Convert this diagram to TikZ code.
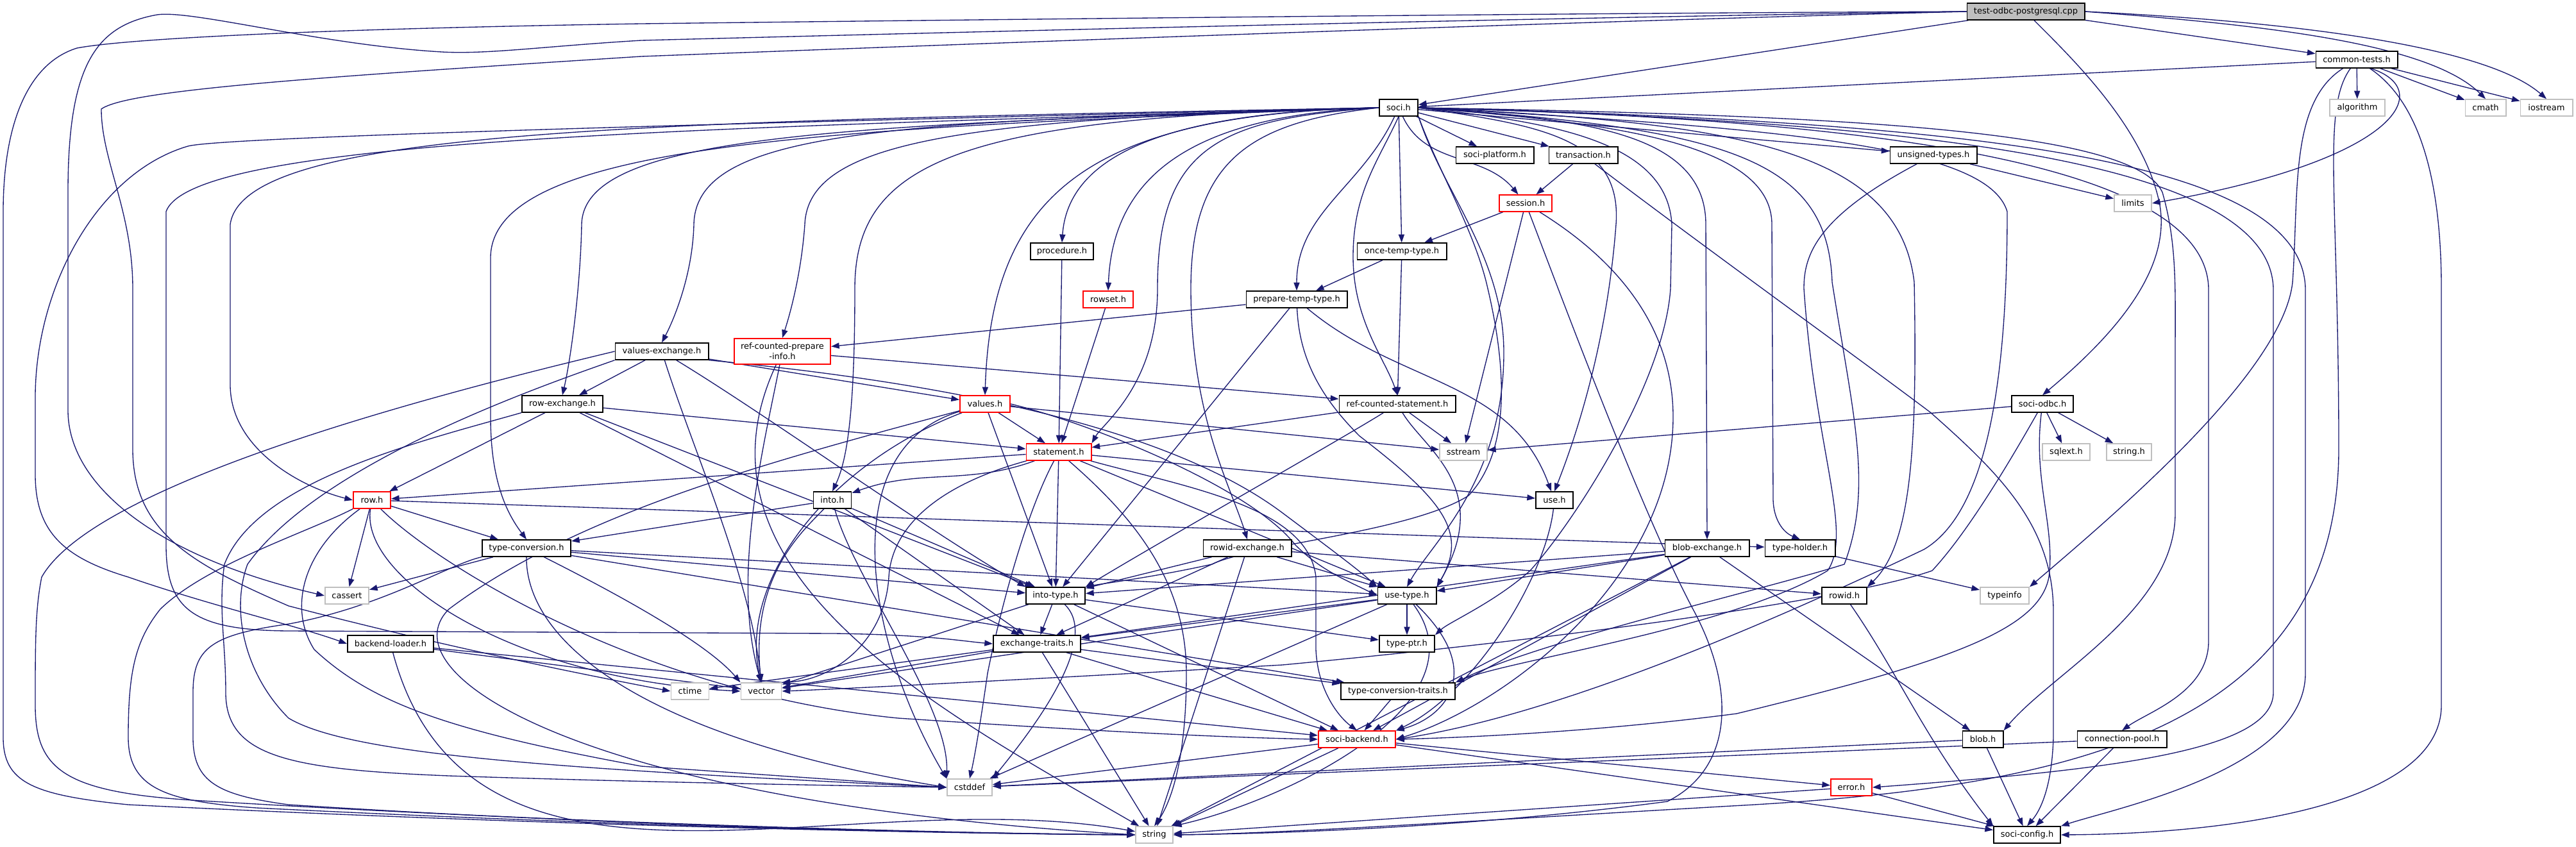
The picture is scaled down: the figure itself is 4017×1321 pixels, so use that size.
\documentclass[tikz,border=0pt]{standalone}
\usepackage{fontspec}
\setmainfont{DejaVu Sans}
\usetikzlibrary{arrows.meta}
\pgfdeclarelayer{edgelayer}
\pgfsetlayers{edgelayer,main}
\definecolor{eblue}{HTML}{191970}
\definecolor{lgray}{HTML}{BFBFBF}
\definecolor{rootfill}{HTML}{BFBFBF}
\newcommand\nfont{\fontsize{3.7pt}{4.6pt}\selectfont}
\begin{document}
\begin{tikzpicture}[x=0.01cm,y=-0.01cm,
  box/.style={draw=black,line width=0.55pt,fill=white,inner sep=0pt,minimum height=0.255cm,font=\nfont},
  sys/.style={box,draw=lgray},
  trunc/.style={box,draw=red},
  e/.style={draw=eblue,line width=0.38pt,-{Triangle[length=3.6pt,width=2.6pt]}}]
\begin{pgfonlayer}{edgelayer}
\fill[white] (0,0) rectangle (4017,1321);
\end{pgfonlayer}
\useasboundingbox (0,0) rectangle (4017,1321);
% ---------- nodes ----------
\node[box,fill=rootfill,minimum width=1.83cm] (T) at (3159,18) {test-odbc-postgresql.cpp};
\node[box,minimum width=1.27cm] (ct) at (3675,93) {common-tests.h};
\node[sys,minimum width=0.86cm] (alg) at (3676,168) {algorithm};
\node[sys,minimum width=0.63cm] (cmath) at (3876,168) {cmath};
\node[sys,minimum width=0.81cm] (ios) at (3971,168) {iostream};
\node[box,minimum width=0.60cm] (soci) at (2181,168) {soci.h};
\node[box,minimum width=1.21cm] (plat) at (2331,242) {soci-platform.h};
\node[box,minimum width=1.07cm] (trans) at (2469,242) {transaction.h};
\node[box,minimum width=1.35cm] (unsig) at (3015,242) {unsigned-types.h};
\node[trunc,minimum width=0.82cm] (sess) at (2379,317) {session.h};
\node[sys,minimum width=0.58cm] (limits) at (3326,317) {limits};
\node[box,minimum width=1.39cm] (once) at (2186,392) {once-temp-type.h};
\node[box,minimum width=0.98cm] (proc) at (1656,392) {procedure.h};
\node[trunc,minimum width=0.78cm] (rowset) at (1728,467) {rowset.h};
\node[box,minimum width=1.57cm] (prep) at (2022,467) {prepare-temp-type.h};
\node[box,minimum width=1.45cm] (vex) at (1032,548) {values-exchange.h};
\node[trunc,minimum width=1.50cm,minimum height=0.40cm,align=center] (rcpi) at (1220,548) {ref-counted-prepare\\-info.h};
\node[box,minimum width=1.26cm] (rex) at (877,630) {row-exchange.h};
\node[trunc,minimum width=0.78cm] (values) at (1536,630) {values.h};
\node[box,minimum width=1.81cm] (rcs) at (2179,630) {ref-counted-statement.h};
\node[box,minimum width=0.96cm] (odbc) at (3185,630) {soci-odbc.h};
\node[trunc,minimum width=1.01cm] (stmt) at (1651,705) {statement.h};
\node[sys,minimum width=0.74cm] (sstream) at (2282,705) {sstream};
\node[sys,minimum width=0.74cm] (sqlext) at (3222,705) {sqlext.h};
\node[sys,minimum width=0.70cm] (strh) at (3320,705) {string.h};
\node[trunc,minimum width=0.58cm] (row) at (580,780) {row.h};
\node[box,minimum width=0.59cm] (into) at (1298,780) {into.h};
\node[box,minimum width=0.58cm] (use) at (2424,780) {use.h};
\node[box,minimum width=1.38cm] (tconv) at (821,855) {type-conversion.h};
\node[box,minimum width=1.37cm] (ridex) at (1945,855) {rowid-exchange.h};
\node[box,minimum width=1.31cm] (bex) at (2662,855) {blob-exchange.h};
\node[box,minimum width=1.09cm] (thold) at (2807,855) {type-holder.h};
\node[sys,minimum width=0.68cm] (cassert) at (541,929) {cassert};
\node[box,minimum width=0.92cm] (itype) at (1646,929) {into-type.h};
\node[box,minimum width=0.91cm] (utype) at (2194,929) {use-type.h};
\node[box,minimum width=0.70cm] (rowid) at (2876,929) {rowid.h};
\node[sys,minimum width=0.76cm] (tinfo) at (3126,929) {typeinfo};
\node[box,minimum width=1.34cm] (bload) at (609,1004) {backend-loader.h};
\node[box,minimum width=1.36cm] (extr) at (1617,1004) {exchange-traits.h};
\node[box,minimum width=0.86cm] (tptr) at (2194,1004) {type-ptr.h};
\node[sys,minimum width=0.59cm] (ctime) at (1076,1078) {ctime};
\node[sys,minimum width=0.63cm] (vector) at (1187,1078) {vector};
\node[box,minimum width=1.78cm] (tct) at (2180,1078) {type-conversion-traits.h};
\node[trunc,minimum width=1.20cm] (sback) at (2116,1153) {soci-backend.h};
\node[box,minimum width=0.63cm] (blob) at (3092,1153) {blob.h};
\node[box,minimum width=1.39cm] (cpool) at (3309,1153) {connection-pool.h};
\node[sys,minimum width=0.70cm] (cstddef) at (1512,1228) {cstddef};
\node[trunc,minimum width=0.64cm] (error) at (2887,1228) {error.h};
\node[sys,minimum width=0.58cm] (string) at (1800,1302) {string};
\node[box,minimum width=1.04cm] (sconf) at (3161,1302) {soci-config.h};
\begin{pgfonlayer}{edgelayer}
% ---------- test-odbc-postgresql.cpp ----------
\draw[e] (T) -- (soci);
\draw[e] (T) -- (ct);
\draw[e] (T.south) ++(13,0) .. controls (3230,90) and (3345,200) .. (3368,320) .. controls (3385,420) and (3300,520) .. (odbc.north);
\draw[e] (T.east) .. controls (3550,40) and (3790,70) .. (cmath.north);
\draw[e] (T.east) .. controls (3600,35) and (3880,75) .. (ios.north);
\draw[e] (T.west) .. controls (2600,20) and (2000,25) .. (1000,37) .. controls (500,45) and (200,60) .. (120,75) .. controls (40,100) and (5,200) .. (5,330) -- (5,1150) .. controls (5,1220) and (50,1240) .. (200,1255) .. controls (900,1290) and (1500,1300) .. (string.west);
\draw[e] (T.west) .. controls (2600,25) and (2000,37) .. (1000,63) .. controls (850,72) and (760,85) .. (689,81) .. controls (500,70) and (300,15) .. (245,23) .. controls (150,40) and (106,100) .. (106,300) -- (106,640) .. controls (106,760) and (250,870) .. (cassert.west);
\draw[e] (T.west) .. controls (2600,30) and (2000,50) .. (1000,88) .. controls (500,120) and (200,140) .. (158,170) .. controls (158,250) and (207,330) .. (207,450) -- (207,700) .. controls (207,830) and (300,880) .. (450,945) .. controls (700,1010) and (900,1050) .. (ctime.west);
% ---------- common-tests.h ----------
\draw[e] (ct) -- (soci);
\draw[e] (ct) -- (alg);
\draw[e] (ct) -- (cmath);
\draw[e] (ct) -- (ios);
\draw[e] (ct.south) ++(22,0) .. controls (3800,140) and (3740,250) .. (limits.east);
\draw[e] (ct) .. controls (3570,160) and (3585,300) .. (3575,440) .. controls (3560,580) and (3300,800) .. (tinfo.north east);
\draw[e] (ct) .. controls (3620,170) and (3647,300) .. (3647,700) .. controls (3647,1150) and (3200,1230) .. (2700,1257) .. controls (2300,1280) and (2000,1300) .. (string.east);
\draw[e] (ct) .. controls (3760,150) and (3807,250) .. (3807,450) -- (3807,1100) .. controls (3807,1250) and (3500,1300) .. (sconf.east);
% ---------- soci.h ----------
\draw[e] (soci) -- (plat);
\draw[e] (soci) -- (trans);
\draw[e] (soci) to[out=-65,in=130] (sess);
\draw[e] (soci) -- (unsig);
\draw[e] (soci) -- (once);
\draw[e] (soci) to[out=-115,in=90] (prep);
\draw[e] (soci.west) .. controls (1800,175) and (1665,250) .. (proc.north);
\draw[e] (soci.west) .. controls (1850,180) and (1735,280) .. (rowset.north);
\draw[e] (soci.west) .. controls (1700,178) and (1546,300) .. (values.north);
\draw[e] (soci.west) .. controls (1500,182) and (1333,250) .. (1333,450) .. controls (1333,650) and (1320,720) .. (into.north);
\draw[e] (soci.west) .. controls (1500,185) and (1260,220) .. (1255,350) .. controls (1250,420) and (1235,480) .. (rcpi.north);
\draw[e] (soci.west) .. controls (1400,190) and (1085,200) .. (1082,350) .. controls (1080,430) and (1050,500) .. (vex.north);
\draw[e] (soci.west) .. controls (1300,195) and (910,210) .. (907,350) .. controls (905,450) and (890,560) .. (rex.north);
\draw[e] (soci.west) .. controls (1300,200) and (770,220) .. (765,400) -- (765,650) .. controls (765,750) and (790,800) .. (tconv.north);
\draw[e] (soci.west) .. controls (1000,190) and (380,200) .. (359,350) -- (359,600) .. controls (359,700) and (470,760) .. (row.west);
\draw[e] (soci.west) .. controls (1000,195) and (340,215) .. (293,228) .. controls (150,270) and (55,450) .. (55,620) -- (55,740) .. controls (55,830) and (100,870) .. (200,900) .. controls (330,945) and (460,975) .. (bload.west);
\draw[e] (soci.west) .. controls (1100,200) and (300,215) .. (259,330) -- (259,850) .. controls (259,950) and (300,983) .. (450,984) -- (1300,988) .. controls (1450,990) and (1500,1000) .. (extr.west);
\draw[e] (soci.west) .. controls (1950,190) and (1857,250) .. (1857,450) .. controls (1857,650) and (1920,760) .. (ridex.north);
\draw[e] (soci.west) .. controls (1900,185) and (1805,230) .. (1805,450) .. controls (1805,600) and (1720,660) .. (stmt.north east);
\draw[e] (soci.south) .. controls (2150,250) and (2110,300) .. (2110,400) .. controls (2110,500) and (2160,560) .. (rcs.north);
\draw[e] (soci.east) .. controls (2400,195) and (2530,215) .. (2520,350) .. controls (2505,550) and (2450,700) .. (use.north);
\draw[e] (soci.south east) .. controls (2250,300) and (2345,400) .. (2345,550) .. controls (2345,750) and (2230,850) .. (utype.north);
\draw[e] (soci.south east) .. controls (2240,260) and (2300,360) .. (2320,450) .. controls (2360,620) and (2340,720) .. (2290,773) .. controls (2200,830) and (1950,850) .. (1890,880) .. controls (1800,900) and (1720,910) .. (itype.north east);
\draw[e] (soci.east) .. controls (2420,190) and (2600,220) .. (2607,350) -- (2605,450) .. controls (2595,600) and (2450,820) .. (2386,890) .. controls (2330,940) and (2260,970) .. (tptr.north east);
\draw[e] (soci.east) .. controls (2700,200) and (2850,250) .. (2857,440) .. controls (2890,650) and (2921,760) .. (2876,880) .. controls (2750,920) and (2400,1000) .. (tct.north east);
\draw[e] (soci.east) .. controls (2800,200) and (3100,230) .. (3130,330) .. controls (3130,600) and (3097,800) .. (3000,857) .. controls (2700,1000) and (2400,1120) .. (sback.east);
\draw[e] (soci.east) .. controls (2450,185) and (2660,200) .. (2660,350) -- (bex.north);
\draw[e] (soci.east) .. controls (2500,190) and (2763,220) .. (2763,350) -- (2765,780) .. controls (2766,810) and (2780,830) .. (thold.north);
\draw[e] (soci.east) .. controls (2700,190) and (2960,230) .. (2985,440) .. controls (2990,700) and (2980,850) .. (rowid.north east);
\draw[e] (soci.east) .. controls (2900,180) and (3330,205) .. (3372,300) .. controls (3395,380) and (3392,450) .. (3392,550) -- (3392,800) .. controls (3392,950) and (3200,1050) .. (blob.north east);
\draw[e] (soci.east) .. controls (2900,185) and (3440,250) .. (3444,450) -- (3444,1000) .. controls (3444,1080) and (3350,1110) .. (cpool.north);
\draw[e] (soci.east) .. controls (3000,190) and (3540,250) .. (3545,450) -- (3545,1080) .. controls (3545,1170) and (3300,1200) .. (error.east);
\draw[e] (soci.east) .. controls (3100,190) and (3590,250) .. (3595,450) -- (3595,1050) .. controls (3595,1200) and (3300,1260) .. (sconf.north east);
% ---------- transaction.h, unsigned-types.h ----------
\draw[e] (trans) -- (sess);
\draw[e] (trans) .. controls (2650,380) and (2900,560) .. (3010,643) .. controls (3120,740) and (3200,820) .. (3202,950) -- (3202,1150) .. controls (3200,1220) and (3185,1260) .. (sconf.north);
\draw[e] (unsig) -- (limits);
\draw[e] (unsig) .. controls (2830,340) and (2813,400) .. (2813,450) .. controls (2830,700) and (2890,830) .. (2850,890) .. controls (2700,980) and (2350,1030) .. (tct.north east);
% ---------- session.h ----------
\draw[e] (sess) -- (once);
\draw[e] (sess) -- (sstream);
\draw[e] (sess) .. controls (2430,450) and (2560,800) .. (2640,950) .. controls (2710,1080) and (2700,1200) .. (2600,1250) .. controls (2300,1290) and (2000,1300) .. (string.east);
\draw[e] (sess) .. controls (2480,380) and (2609,480) .. (2609,650) .. controls (2609,900) and (2350,1100) .. (sback.east);
% ---------- once / procedure / rowset / prepare ----------
\draw[e] (once) -- (prep);
\draw[e] (once) -- (rcs);
\draw[e] (proc) -- (stmt);
\draw[e] (rowset) -- (stmt);
\draw[e] (prep) -- (rcpi);
\draw[e] (prep) -- (itype);
\draw[e] (prep) .. controls (2026,560) and (2060,620) .. (2120,680) .. controls (2250,780) and (2290,830) .. (utype.north east);
\draw[e] (prep) to[out=-40,in=110] (use);
% ---------- ref-counted-prepare-info.h ----------
\draw[e] (rcpi) -- (rcs);
\draw[e] (rcpi) to[out=-115,in=150] (string);
\draw[e] (rcpi) .. controls (1190,700) and (1140,900) .. (vector.north);
% ---------- values-exchange.h ----------
\draw[e] (vex) -- (values);
\draw[e] (vex) -- (rex);
\draw[e] (vex.west) .. controls (700,610) and (150,750) .. (65,900) .. controls (55,950) and (55,1000) .. (55,1100) .. controls (55,1200) and (100,1235) .. (300,1248) .. controls (900,1285) and (1500,1300) .. (string.west);
\draw[e] (vex.south west) .. controls (850,600) and (500,720) .. (386,880) .. controls (360,950) and (380,1050) .. (450,1120) .. controls (550,1180) and (900,1200) .. (cstddef.west);
\draw[e] (vex) .. controls (1200,650) and (1450,830) .. (itype.north west);
\draw[e] (vex.south east) .. controls (1400,590) and (1800,650) .. (2000,800) .. controls (2080,860) and (2120,890) .. (utype.north west);
\draw[e] (vex) .. controls (1080,700) and (1170,900) .. (vector.north);
% ---------- values.h ----------
\draw[e] (values) -- (stmt);
\draw[e] (values) -- (sstream);
\draw[e] (values) -- (itype);
\draw[e] (values.east) .. controls (1700,660) and (1950,760) .. (2020,850) .. controls (2060,890) and (2100,905) .. (utype.west);
\draw[e] (values) .. controls (1300,700) and (1350,1000) .. (cstddef.north west);
\draw[e] (values) .. controls (1200,720) and (900,800) .. (700,950) .. controls (600,1050) and (900,1250) .. (string.west);
\draw[e] (values) .. controls (1300,720) and (1150,900) .. (vector.north);
% ---------- statement.h ----------
\draw[e] (stmt) -- (row);
\draw[e] (stmt) to[out=200,in=20] (into);
\draw[e] (stmt) -- (use);
\draw[e] (stmt) -- (itype);
\draw[e] (stmt) -- (utype);
\draw[e] (stmt) .. controls (1850,760) and (2040,790) .. (2052,900) -- (2052,1013) .. controls (2055,1080) and (2090,1120) .. (sback.north);
\draw[e] (stmt) .. controls (1760,800) and (1850,900) .. (1850,1050) .. controls (1850,1200) and (1820,1260) .. (string.north);
\draw[e] (stmt) .. controls (1600,800) and (1560,950) .. (1540,1050) .. controls (1530,1120) and (1520,1180) .. (cstddef.north);
\draw[e] (stmt) .. controls (1450,760) and (1390,830) .. (1386,900) .. controls (1380,1000) and (1300,1060) .. (vector.north east);
% ---------- ref-counted-statement.h ----------
\draw[e] (rcs) -- (stmt);
\draw[e] (rcs) -- (sstream);
\draw[e] (rcs) .. controls (2100,680) and (1800,850) .. (itype.north east);
\draw[e] (rcs) .. controls (2220,700) and (2330,760) .. (utype.north east);
% ---------- row-exchange.h ----------
\draw[e] (rex) -- (row);
\draw[e] (rex) -- (stmt);
\draw[e] (rex) -- (itype);
\draw[e] (rex) -- (extr);
\draw[e] (rex.south west) .. controls (650,690) and (400,750) .. (350,880) .. controls (340,950) and (352,1000) .. (352,1080) .. controls (352,1180) and (450,1200) .. (700,1210) .. controls (1000,1220) and (1300,1225) .. (cstddef.west);
% ---------- row.h ----------
\draw[e] (row) -- (thold);
\draw[e] (row) -- (tconv);
\draw[e] (row) -- (cassert);
\draw[e] (row) .. controls (680,880) and (1000,1080) .. (1400,1120) .. controls (1700,1140) and (1900,1150) .. (sback.west);
\draw[e] (row) .. controls (470,860) and (450,950) .. (490,1013) .. controls (580,1097) and (700,1140) .. (1000,1195) -- (cstddef.west);
\draw[e] (row.south west) .. controls (480,830) and (322,880) .. (250,950) .. controls (210,1000) and (200,1050) .. (200,1150) .. controls (200,1230) and (260,1250) .. (400,1260) .. controls (1000,1290) and (1500,1300) .. (string.west);
\draw[e] (row) .. controls (560,900) and (800,1060) .. (vector.west);
% ---------- into.h, use.h ----------
\draw[e] (into) -- (itype);
\draw[e] (into) -- (extr);
\draw[e] (into) -- (tconv);
\draw[e] (into) .. controls (1250,830) and (1170,900) .. (vector.north);
\draw[e] (into) .. controls (1330,900) and (1480,1100) .. (cstddef.north west);
\draw[e] (use) .. controls (2410,900) and (2300,1080) .. (sback.north east);
% ---------- rowid-exchange.h ----------
\draw[e] (ridex) -- (rowid);
\draw[e] (ridex) -- (itype);
\draw[e] (ridex) -- (utype);
\draw[e] (ridex) -- (extr);
\draw[e] (ridex) -- (string);
% ---------- type-conversion.h ----------
\draw[e] (tconv) -- (tct);
\draw[e] (tconv) -- (itype);
\draw[e] (tconv) -- (utype);
\draw[e] (tconv) -- (cassert);
\draw[e] (tconv.south west) .. controls (700,880) and (600,945) .. (451,973) .. controls (330,990) and (301,1010) .. (301,1080) -- (301,1150) .. controls (301,1220) and (340,1240) .. (450,1255) .. controls (1000,1290) and (1500,1300) .. (string.west);
\draw[e] (tconv) .. controls (820,1000) and (1000,1150) .. (cstddef.west);
\draw[e] (tconv) .. controls (950,920) and (1100,1000) .. (vector.north west);
% ---------- blob-exchange.h, type-holder.h ----------
\draw[e] (bex) -- (blob);
\draw[e] (bex) -- (itype);
\draw[e] (bex) -- (utype);
\draw[e] (bex) -- (extr);
\draw[e] (bex) -- (sback);
\draw[e] (bex) -- (string);
\draw[e] (thold) -- (tinfo);
% ---------- into-type.h, use-type.h ----------
\draw[e] (itype) -- (sback);
\draw[e] (itype) -- (tptr);
\draw[e] (itype) -- (extr);
\draw[e] (itype) .. controls (1720,1000) and (1600,1150) .. (cstddef.north east);
\draw[e] (itype) -- (vector);
\draw[e] (utype) .. controls (2320,1050) and (2250,1120) .. (sback.north east);
\draw[e] (utype) -- (tptr);
\draw[e] (utype) -- (extr);
\draw[e] (utype) -- (cstddef);
\draw[e] (utype) .. controls (2320,1100) and (2000,1250) .. (string.north east);
\draw[e] (utype) -- (vector);
% ---------- exchange-traits.h ----------
\draw[e] (extr) -- (tct);
\draw[e] (extr) -- (sback);
\draw[e] (extr) -- (string);
\draw[e] (extr) -- (vector);
\draw[e] (extr) -- (ctime);
% ---------- soci-backend.h and the rest ----------
\draw[e] (sback) -- (sconf);
\draw[e] (sback) -- (error);
\draw[e] (sback) -- (string);
\draw[e] (sback) -- (cstddef);
\draw[e] (error) -- (sconf);
\draw[e] (error) -- (string);
\draw[e] (blob) -- (sconf);
\draw[e] (blob) -- (cstddef);
\draw[e] (cpool) -- (sconf);
\draw[e] (cpool) -- (cstddef);
\draw[e] (bload) -- (sback);
\draw[e] (bload) to[out=-75,in=170] (string);
\draw[e] (bload) -- (vector);
\draw[e] (rowid) .. controls (2960,1050) and (3000,1150) .. (sconf.north west);
\draw[e] (tct) -- (sback);
% ---------- soci-odbc.h ----------
\draw[e] (odbc) -- (sstream);
\draw[e] (odbc) -- (sqlext);
\draw[e] (odbc) -- (strh);
\draw[e] (odbc) .. controls (3170,750) and (3205,820) .. (3195,900) .. controls (3180,980) and (3050,1030) .. (2708,1113) .. controls (2500,1140) and (2300,1150) .. (sback.east);
\draw[e] (odbc) .. controls (3100,780) and (3050,850) .. (3013,890) .. controls (2900,930) and (2500,990) .. (2000,1037) .. controls (1600,1060) and (1300,1075) .. (vector.east);
\end{pgfonlayer}
\end{tikzpicture}
\end{document}
